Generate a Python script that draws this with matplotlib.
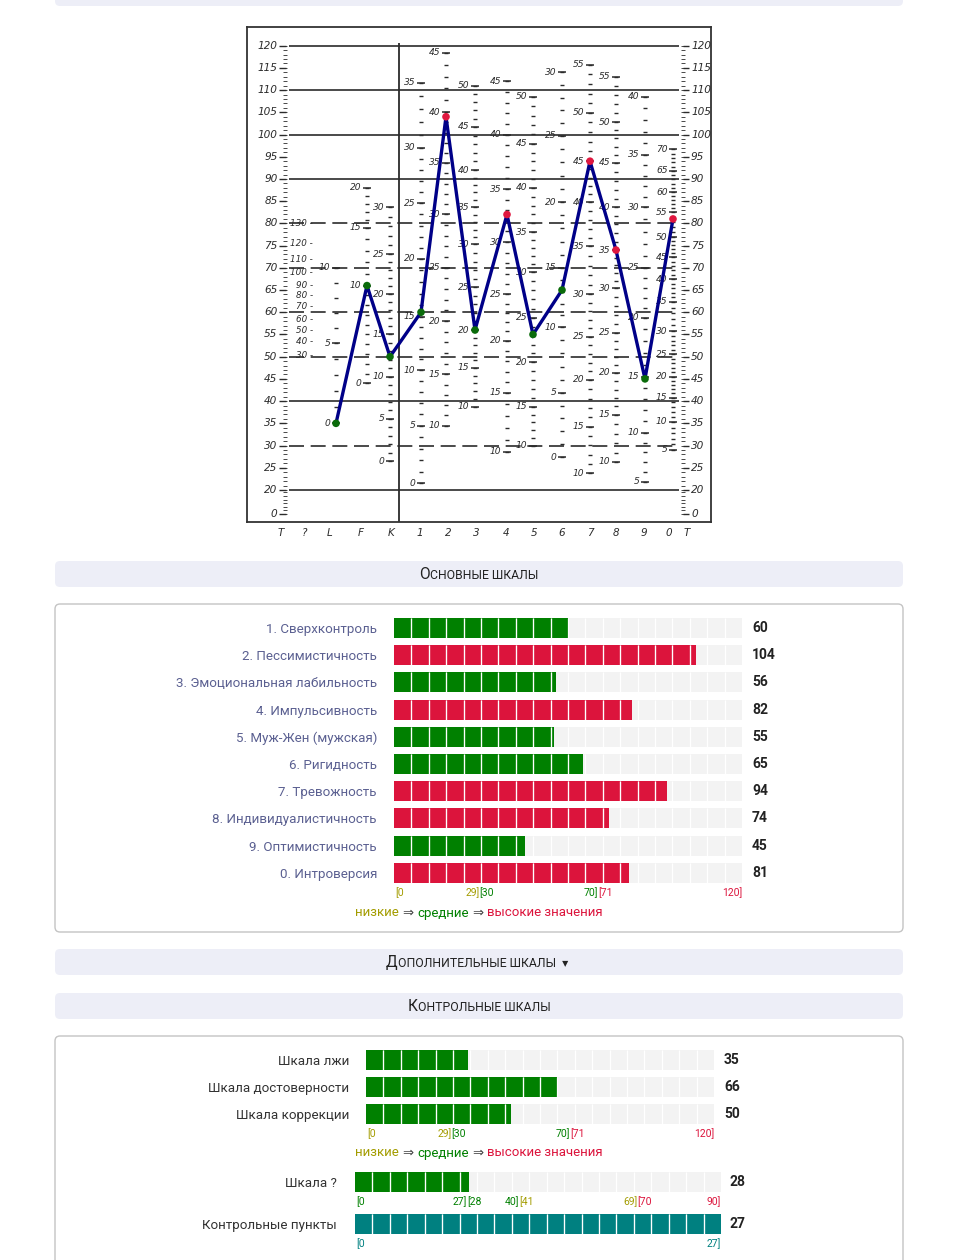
import numpy as np
import matplotlib
matplotlib.use('Agg')
import matplotlib.pyplot as plt
from matplotlib.patches import FancyBboxPatch
from matplotlib.offsetbox import TextArea, HPacker, AnnotationBbox

W, H = 956, 1260
UI = ['Roboto', 'DejaVu Sans']
plt.rcParams['font.family'] = UI

# ---------------- data ----------------
profile_scales = ['L', 'F', 'K', '1', '2', '3', '4', '5', '6', '7', '8', '9', '0']
profile_T = [35, 66, 50, 60, 104, 56, 82, 55, 65, 94, 74, 45, 81]
form_bottom_labels = ['T', '?', 'L', 'F', 'K', '1', '2', '3', '4', '5', '6', '7', '8', '9', '0', 'T']
t_scale_labels = [120, 115, 110, 105, 100, 95, 90, 85, 80, 75, 70, 65, 60, 55, 50, 45, 40, 35, 30, 25, 20, 0]

# raw-score scales printed in each column of the form (raw value -> T position)
raw_q = [130, 120, 110, 100, 90, 80, 70, 60, 50, 40, 30]
t_q = [80, 75.5, 71.9, 69, 66, 63.8, 61.3, 58.4, 56, 53.4, 50.3]
raw_L = [10, 5, 0]
t_L = [70, 53, 35]
raw_F = [20, 15, 10, 0]
t_F = [88, 79, 66, 44]
raw_K = [30, 25, 20, 15, 10, 5, 0]
t_K = [83.6, 73, 64, 55, 45.5, 36, 26.5]
raw_1 = [35, 30, 25, 20, 15, 10, 5, 0]
t_1 = [111.6, 97, 84.5, 72, 59, 47, 34.5, 21.5]
raw_2 = [45, 40, 35, 30, 25, 20, 15, 10]
t_2 = [118.4, 105, 93.6, 82, 70, 58, 46, 34.5]
raw_3 = [50, 45, 40, 35, 30, 25, 20, 15, 10]
t_3 = [111, 101.7, 92, 83.6, 75.3, 65.6, 56, 47.5, 38.7]
raw_4 = [45, 40, 35, 30, 25, 20, 15, 10]
t_4 = [112, 100, 87.7, 75.8, 64, 53.6, 41.9, 28.6]
raw_5 = [50, 45, 40, 35, 30, 25, 20, 15, 10]
t_5 = [108.5, 97.9, 88, 78, 69, 58.8, 48.7, 38.7, 30]
raw_6 = [30, 25, 20, 15, 10, 5, 0]
t_6 = [114, 99.7, 84.8, 70, 56.6, 41.9, 27.4]
raw_7 = [55, 50, 45, 40, 35, 30, 25, 20, 15, 10]
t_7 = [115.7, 104.9, 94, 84.8, 74.8, 64, 54.5, 44.8, 34.2, 23.8]
raw_8 = [55, 50, 45, 40, 35, 30, 25, 20, 15, 10]
t_8 = [113, 102.8, 93.6, 83.6, 74, 65.4, 55.4, 46.4, 36.9, 26.3]
raw_9 = [40, 35, 30, 25, 20, 15, 10, 5]
t_9 = [108.5, 95.4, 83.6, 70, 58.8, 45.5, 32.9, 21.8]
raw_0 = [70, 65, 60, 55, 50, 45, 40, 35, 30, 25, 20, 15, 10, 5]
t_0 = [96.7, 91.8, 87, 82.5, 76.9, 72.4, 67.4, 62.4, 55.7, 50.5, 45.5, 40.8, 35.3, 29]

main_labels = ['1. Сверхконтроль', '2. Пессимистичность', '3. Эмоциональная лабильность',
               '4. Импульсивность', '5. Муж-Жен (мужская)', '6. Ригидность', '7. Тревожность',
               '8. Индивидуалистичность', '9. Оптимистичность', '0. Интроверсия']
main_values = [60, 104, 56, 82, 55, 65, 94, 74, 45, 81]
control_labels = ['Шкала лжи', 'Шкала достоверности', 'Шкала коррекции']
control_values = [35, 66, 50]
q_labels = ['Шкала ?']
q_values = [28]
points_labels = ['Контрольные пункты']
points_values = [27]

OLIVE, GREEN, RED, TEAL = '#a39c00', '#008000', '#dc143c', '#008080'
main_ranges = [(0, 29, OLIVE), (30, 70, GREEN), (71, 120, RED)]
q_ranges = [(0, 27, GREEN), (28, 40, GREEN), (41, 69, OLIVE), (70, 90, RED)]
points_ranges = [(0, 27, TEAL)]

# ---------------- figure ----------------
fig = plt.figure(figsize=(W / 100, H / 100), dpi=100)
fig.patch.set_facecolor('white')

bg = fig.add_axes([0, 0, 1, 1])
bg.set_xlim(0, W)
bg.set_ylim(H, 0)
bg.axis('off')

HEAD = '#edeef7'


def rbox(x0, y0, x1, y1, fc, ec='none', lw=0, r=5):
    bg.add_patch(FancyBboxPatch((x0, y0), x1 - x0, y1 - y0,
                                boxstyle=f'round,pad=0,rounding_size={r}',
                                fc=fc, ec=ec, lw=lw))


def packed(parts, xy, sep=0.0, align='baseline'):
    kids = [TextArea(s, textprops=dict(color=c, fontsize=fs, family=UI)) for s, c, fs in parts]
    box = HPacker(children=kids, align=align, pad=0, sep=sep)
    ab = AnnotationBbox(box, xy, xycoords='data', frameon=False, box_alignment=(0.5, 0.5))
    bg.add_artist(ab)


def smallcaps(first, rest, xy):
    packed([(first, '#222222', 11.2), (rest, '#222222', 8.8)], xy, sep=0.2)


rbox(55, -20, 903, 6, HEAD)
rbox(55, 561, 903, 587, HEAD)
smallcaps('О', 'СНОВНЫЕ ШКАЛЫ', (479, 574.5))
rbox(55, 604, 903, 932, 'white', '#c4c4c4', 1.0)
rbox(55, 949, 903, 975, HEAD)
smallcaps('Д', 'ОПОЛНИТЕЛЬНЫЕ ШКАЛЫ  ▾', (477, 962.5))
rbox(55, 993, 903, 1019, HEAD)
smallcaps('К', 'ОНТРОЛЬНЫЕ ШКАЛЫ', (479, 1006.5))
rbox(55, 1036, 903, 1300, 'white', '#c4c4c4', 1.0)

legend_parts = [('низкие', OLIVE, 9.5), ('⇒', '#444444', 9.5), ('средние', GREEN, 9.5),
                ('⇒', '#444444', 9.5), ('высокие значения', RED, 9.5)]
packed(legend_parts, (479, 913), sep=2.6, align='center')
packed(legend_parts, (479, 1153), sep=2.6, align='center')

# ---------------- MMPI profile form ----------------
pa = fig.add_axes([247 / W, 1 - 522 / H, 464 / W, 495 / H])
KC = 0.271


def fwd(v):
    v = np.asarray(v, float)
    return np.where(v >= 20, v, 20 - (20 - v) * KC)


def inv(u):
    u = np.asarray(u, float)
    return np.where(u >= 20, u, 20 - (20 - u) / KC)


pa.set_yscale('function', functions=(fwd, inv))
pa.set_xlim(247, 711)
pa.set_ylim(-6.6, 124.2)
pa.set_yticks([])
for s in pa.spines.values():
    s.set_color('#333333')
    s.set_linewidth(1.3)

INK = '#2b2b2b'
hand = dict(color=INK, style='italic', family=['DejaVu Sans'])

# layout: x position (px) of each printed column
col_x = {'L': 336, 'F': 367, 'K': 390, '1': 421, '2': 446, '3': 475, '4': 507,
         '5': 533, '6': 562, '7': 590, '8': 616, '9': 645, '0': 673}
bottom_x = [281, 304, 330, 361, 391, 420, 448, 476, 506, 534, 562, 590, 616, 644, 669, 687]

# left and right T scales
minor_T = np.concatenate([np.arange(0, 20, 3), np.arange(20, 121)])
pa.hlines(minor_T, 283, 286.5, color=INK, lw=0.6)
pa.hlines(minor_T, 681, 684.5, color=INK, lw=0.6)
pa.hlines(t_scale_labels, 279, 286, color=INK, lw=1.0)
pa.hlines(t_scale_labels, 683, 689, color=INK, lw=1.0)
for t in t_scale_labels:
    pa.text(277.5, t, str(t), ha='right', va='center', fontsize=7.6, **hand)
    pa.text(691, t, str(t), ha='left', va='center', fontsize=7.6, **hand)

# horizontal rules and the separating vertical
pa.hlines([120, 110, 100, 90, 40, 20], 289, 679, color=INK, lw=1.2)
pa.hlines([80, 70, 60, 50, 30], 289, 679, color=INK, lw=1.2, linestyles=(0, (9, 4)))
pa.vlines(399, -6.6, 120.6, color=INK, lw=1.3)

# '?' column (labels only)
for r, t in zip(raw_q, t_q):
    pa.text(313, t, f'{r} -', ha='right', va='center', fontsize=6.3, **hand)

col_raw = {'L': (raw_L, t_L), 'F': (raw_F, t_F), 'K': (raw_K, t_K), '1': (raw_1, t_1),
           '2': (raw_2, t_2), '3': (raw_3, t_3), '4': (raw_4, t_4), '5': (raw_5, t_5),
           '6': (raw_6, t_6), '7': (raw_7, t_7), '8': (raw_8, t_8), '9': (raw_9, t_9),
           '0': (raw_0, t_0)}
for key, (raws, ts) in col_raw.items():
    x = col_x[key]
    order = np.argsort(raws)
    rs = np.asarray(raws, float)[order]
    tt = np.asarray(ts, float)[order]
    units = np.arange(rs[0], rs[-1] + 1)
    pa.hlines(np.interp(units, rs, tt), x - 2.2, x + 2.2, color=INK, lw=1.0)
    pa.hlines(ts, x - 4, x + 4, color=INK, lw=1.1)
    for r, t in zip(raws, ts):
        pa.text(x - 5.5, t, str(r), ha='right', va='center', fontsize=6.6, **hand)

# the profile itself
px = [col_x[k] for k in profile_scales]
pa.plot(px, profile_T, color='#000088', lw=2.4, zorder=5, solid_joinstyle='miter')
pcol = ['#e0173f' if t > 70 else '#0a6b0a' for t in profile_T]
pa.scatter(px, profile_T, s=30, c=pcol, zorder=6, linewidths=0)

pa.set_xticks(bottom_x, form_bottom_labels)
pa.tick_params(axis='x', length=0, pad=4.5, labelsize=7.5, labelcolor=INK)
for lab in pa.get_xticklabels():
    lab.set_style('italic')
    lab.set_family('DejaVu Sans')


# ---------------- bar panels ----------------
def color_for(v, ranges):
    for lo, hi, c in ranges:
        if lo <= v <= hi:
            return c
    return ranges[-1][2]


def bar_panel(x0, y0, x1, y1, labels, values, vmax, ranges, nseg, lab_color,
              lab_pad_px, val_pad_px, row_h=0.735):
    ax = fig.add_axes([x0 / W, 1 - y1 / H, (x1 - x0) / W, (y1 - y0) / H])
    n = len(values)
    yp = np.arange(n)
    ax.set_xlim(0, vmax)
    ax.set_ylim(n - 0.5, -0.5)
    ax.barh(yp, [vmax] * n, height=row_h, color='#f3f3f3', lw=0)
    seps = np.linspace(0, vmax, nseg + 1)[1:-1]
    for y in yp:
        ax.vlines(seps, y - row_h / 2, y + row_h / 2, colors='white', lw=0.9)
    cols = [color_for(v, ranges) for v in values]
    ax.barh(yp, values, height=row_h, color=cols, lw=0)
    for y, v in zip(yp, values):
        s_in = seps[seps < v]
        ax.vlines(s_in, y - row_h / 2, y + row_h / 2, colors='white', lw=0.9, alpha=0.45)
        ax.annotate(str(v), xy=(1, y), xycoords=('axes fraction', 'data'),
                    xytext=(val_pad_px * 0.72, 0), textcoords='offset points',
                    ha='left', va='center', fontsize=10, fontweight='bold', color='#222222')
    ax.set_yticks(yp, labels)
    ax.tick_params(axis='y', length=0, pad=lab_pad_px * 0.72, labelsize=9.6, labelcolor=lab_color)
    ax.set_xticks([])
    for s in ax.spines.values():
        s.set_visible(False)
    # range labels under the bars
    kw = dict(xycoords=('data', 'axes fraction'), textcoords='offset points',
              va='top', fontsize=7.5)
    lo0, hi0, c0 = ranges[0]
    ax.annotate(f'[{lo0}', xy=(lo0, 0), xytext=(1, -0.5), ha='left', color=c0, **kw)
    for (lo_a, hi_a, c_a), (lo_b, hi_b, c_b) in zip(ranges[:-1], ranges[1:]):
        b = (hi_a + lo_b) / 2
        ax.annotate(f'{hi_a}]', xy=(b, 0), xytext=(0, -0.5), ha='right', color=c_a, **kw)
        ax.annotate(f'[{lo_b}', xy=(b, 0), xytext=(0, -0.5), ha='left', color=c_b, **kw)
    loN, hiN, cN = ranges[-1]
    ax.annotate(f'{hiN}]', xy=(hiN, 0), xytext=(0, -0.5), ha='right', color=cN, **kw)
    return ax


bar_panel(394, 614.4, 742, 886.4, main_labels, main_values, 120, main_ranges, 20,
          '#5b6091', 17, 10)
bar_panel(366, 1046.5, 714, 1127.5, control_labels, control_values, 120, main_ranges, 20,
          '#333333', 17, 10)
bar_panel(355, 1168.5, 721, 1195.5, q_labels, q_values, 90, q_ranges, 21,
          '#333333', 18, 8)
bar_panel(355, 1210.5, 721, 1237.5, points_labels, points_values, 27, points_ranges, 21,
          '#333333', 18, 8)

fig.savefig('out.png', dpi=100, facecolor='white')
